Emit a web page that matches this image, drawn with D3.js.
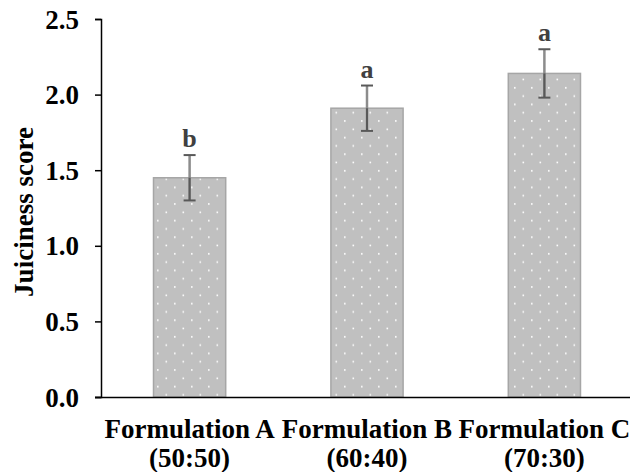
<!DOCTYPE html>
<html><head><meta charset="utf-8">
<script src="https://cdn.jsdelivr.net/npm/d3@7"></script>
<style>body{margin:0;background:#fff}svg{display:block}</style>
</head><body>
<svg id="c" width="630" height="472"></svg>
<script>
const categories = ["A", "B", "C"];
const labelLine1 = ["Formulation A", "Formulation B", "Formulation C"];
const labelLine2 = ["(50:50)", "(60:40)", "(70:30)"];
const values = [1.45, 1.91, 2.14];
const errors = [0.15, 0.15, 0.16];
const letters = ["b", "a", "a"];
const yTicks = [0, 0.5, 1.0, 1.5, 2.0, 2.5];

const svg = d3.select("#c");
const font = "'Liberation Serif','Times New Roman',serif";
const mLeft = 101, mRight = 633, mTop = 19, mBottom = 397;

const x = d3.scaleBand().domain(categories).range([mLeft, mRight]).paddingInner(0.593).paddingOuter(0.296);
const y = d3.scaleLinear().domain([0, 2.5]).range([mBottom, mTop]);

const defs = svg.append("defs");
const pat = defs.append("pattern").attr("id", "dots").attr("patternUnits", "userSpaceOnUse")
  .attr("width", 17).attr("height", 16.6).attr("x", 0).attr("y", 0);
pat.append("rect").attr("width", 17).attr("height", 16.6).attr("fill", "#c0c0c0");
pat.append("rect").attr("x", 4).attr("y", 4).attr("width", 1.6).attr("height", 1.6).attr("fill", "#fff");
pat.append("rect").attr("x", 12.5).attr("y", 12.3).attr("width", 1.6).attr("height", 1.6).attr("fill", "#fff");

// bars
svg.selectAll(".bar").data(values).join("rect")
  .attr("x", (d, i) => x(categories[i]))
  .attr("y", d => y(d))
  .attr("width", x.bandwidth())
  .attr("height", d => y(0) - y(d))
  .attr("fill", "url(#dots)")
  .attr("stroke", "#a6a6a6").attr("stroke-width", 1.5);

// error bars
const cx = i => x(categories[i]) + x.bandwidth() / 2;
const eb = svg.append("g");
values.forEach((v, i) => {
  eb.append("line").attr("x1", cx(i)).attr("x2", cx(i)).attr("y1", y(v + errors[i])).attr("y2", y(v - errors[i]))
    .attr("stroke", "#8c8c8c").attr("stroke-width", 2.5);
  eb.append("line").attr("x1", cx(i)).attr("x2", cx(i)).attr("y1", y(v)).attr("y2", y(v - errors[i]))
    .attr("stroke", "#595959").attr("stroke-width", 2);
  [v + errors[i], v - errors[i]].forEach(e => {
    eb.append("line").attr("x1", cx(i) - 6).attr("x2", cx(i) + 6).attr("y1", y(e)).attr("y2", y(e))
      .attr("stroke", "#595959").attr("stroke-width", 2);
  });
  svg.append("text").attr("x", cx(i)).attr("y", y(v + errors[i]) - 8)
    .attr("text-anchor", "middle").attr("font-family", font).attr("font-weight", "bold")
    .attr("font-size", 26).attr("fill", "#404040").text(letters[i]);
});

// y axis
const ya = svg.append("g").attr("transform", `translate(${mLeft},0)`)
  .call(d3.axisLeft(y).tickValues(yTicks).tickFormat(d3.format(".1f")).tickSizeOuter(0).tickSize(6).tickPadding(16));
ya.select(".domain").attr("stroke", "#000").attr("stroke-width", 1.5);
ya.selectAll(".tick line").attr("stroke", "#000").attr("stroke-width", 1.5);
ya.selectAll(".tick text").attr("font-family", font).attr("font-weight", "bold").attr("font-size", 27).attr("fill", "#000").attr("dy", "0.34em");

// x axis
const xa = svg.append("g").attr("transform", `translate(0,${mBottom})`)
  .call(d3.axisBottom(x).tickSize(0).tickSizeOuter(0).tickFormat(""));
xa.select(".domain").attr("stroke", "#000").attr("stroke-width", 1.5).attr("d", `M${mLeft - 6},0.5H630`);

categories.forEach((c, i) => {
  const t = svg.append("text").attr("x", cx(i)).attr("text-anchor", "middle")
    .attr("font-family", font).attr("font-weight", "bold").attr("font-size", 27).attr("fill", "#000");
  t.append("tspan").attr("x", cx(i)).attr("y", 438).text(labelLine1[i]);
  t.append("tspan").attr("x", cx(i)).attr("y", 467).text(labelLine2[i]);
});

svg.append("text").attr("transform", `translate(33,212) rotate(-90)`)
  .attr("text-anchor", "middle").attr("font-family", font).attr("font-weight", "bold")
  .attr("font-size", 27).attr("fill", "#000").text("Juiciness score");
</script>
</body></html>
